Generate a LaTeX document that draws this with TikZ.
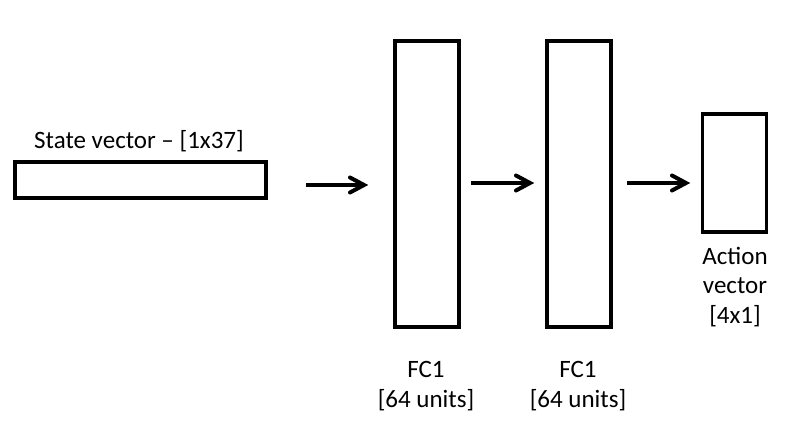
\documentclass[tikz,border=0pt]{standalone}
\usepackage{fontspec}
\setmainfont{Carlito}
\begin{document}
\begin{tikzpicture}[x=1pt,y=-1pt,
  blk/.style={draw=black, line width=3.2pt, fill=white, inner sep=0pt, outer sep=0pt, rectangle},
  lbl/.style={font=\fontsize{25}{29.5}\selectfont, align=center, inner sep=0pt},
  shaft/.style={line width=4pt, line cap=butt},
  head/.style={line width=4pt, line cap=round, line join=miter, miter limit=10}
]
\useasboundingbox (0,0) rectangle (810,443);
\fill[white] (0,0) rectangle (810,443);
% boxes
\node[blk, minimum width=251pt, minimum height=36pt] (s) at (140.5,180) {};
\node[blk, minimum width=64pt, minimum height=286pt] (f1) at (427,184) {};
\node[blk, minimum width=64pt, minimum height=286pt] (f2) at (579,184) {};
\node[blk, minimum width=64pt, minimum height=118pt] (a) at (734.5,173) {};
% labels
\node[lbl] (sl) at (139,141) {State vector -- [1x37]};
\node[lbl] (f1l) at (426,386) {FC1\\{}[64 units]};
\node[lbl] (f2l) at (578,386) {FC1\\{}[64 units]};
\node[lbl] (al) at (735,287) {Action\\vector\\{}[4x1]};
% arrow end points (yshift is in page direction: negative = down)
\coordinate (s1) at ([xshift=40pt,yshift=-5pt]s.east);
\coordinate (t1) at ([xshift=-31pt,yshift=-1pt]f1.west);
\coordinate (s2) at ([xshift=12pt,yshift=1pt]f1.east);
\coordinate (t2) at ([xshift=-17pt,yshift=1pt]f2.west);
\coordinate (s3) at ([xshift=16pt,yshift=1pt]f2.east);
\coordinate (t3) at ([xshift=-16.5pt,yshift=-10pt]a.west);
% arrows
\draw[shaft] (s1) -- (t1);
\draw[head] (t1) ++(-14,-7.5) -- (t1) -- ++(-14,7.5);
\draw[shaft] (s2) -- (t2);
\draw[head] (t2) ++(-14,-7.5) -- (t2) -- ++(-14,7.5);
\draw[shaft] (s3) -- (t3);
\draw[head] (t3) ++(-14,-7.5) -- (t3) -- ++(-14,7.5);
\end{tikzpicture}
\end{document}
